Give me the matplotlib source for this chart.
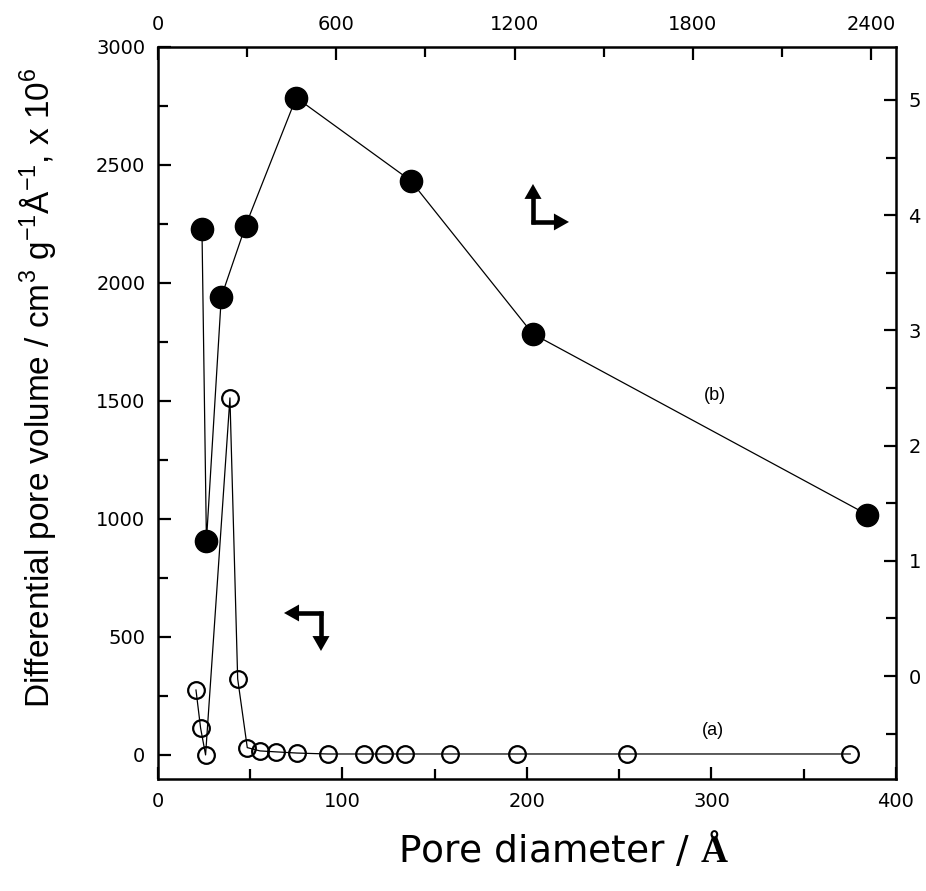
import matplotlib
matplotlib.use('Agg')
import matplotlib.pyplot as plt
from matplotlib.patches import Polygon
from matplotlib.ticker import MultipleLocator

plt.rcParams['font.family'] = ['DejaVu Sans']
plt.rcParams['mathtext.fontset'] = 'custom'
plt.rcParams['mathtext.rm'] = 'Liberation Sans'
plt.rcParams['mathtext.it'] = 'Liberation Sans'
plt.rcParams['mathtext.bf'] = 'Liberation Serif:bold'

# (a) open circles: bottom / left axes
diam_a = [20.6, 23.1, 25.8, 39.0, 43.2, 48.4, 55.3, 63.9, 75.3, 91.9,
          111.6, 122.4, 133.8, 158.4, 194.7, 254.4, 375.2]
vol_a = [275, 114, 0, 1513, 322, 31, 17, 13, 8, 4, 4, 4, 4, 4, 4, 4, 4]

# (b) filled circles: top / right axes
diam_b = [148, 163, 213, 295, 465, 850, 1261, 2387]
vol_b = [3.88, 1.17, 3.29, 3.91, 5.02, 4.30, 2.97, 1.40]

fig = plt.figure(figsize=(9.26, 8.91), dpi=100)
rect = [0.1706, 0.1257, 0.7970, 0.8216]
ax = fig.add_axes(rect)
ax2 = fig.add_axes(rect, frameon=False)

ax.plot(diam_a, vol_a, '-o', color='k', lw=0.9, ms=12, mfc='none',
        mec='k', mew=1.6, zorder=3)
ax.set_xlim(0, 400)
ax.set_ylim(-102, 3000)
ax.xaxis.set_major_locator(MultipleLocator(100))
ax.xaxis.set_minor_locator(MultipleLocator(50))
ax.yaxis.set_major_locator(MultipleLocator(500))
ax.yaxis.set_minor_locator(MultipleLocator(250))

ax2.plot(diam_b, vol_b, '-o', color='k', lw=0.9, ms=16, mfc='k', mec='k',
         zorder=3)
ax2.set_xlim(0, 2483)
ax2.set_ylim(-0.894, 5.46)
ax2.xaxis.set_major_locator(MultipleLocator(600))
ax2.xaxis.set_minor_locator(MultipleLocator(300))
ax2.yaxis.set_major_locator(MultipleLocator(1))
ax2.yaxis.set_minor_locator(MultipleLocator(0.5))
ax2.xaxis.tick_top()
ax2.yaxis.tick_right()

for a in (ax, ax2):
    a.tick_params(which='major', direction='in', length=9, width=1.6,
                  labelsize=14, pad=9)
    a.tick_params(which='minor', direction='in', length=7, width=1.6)
for s in ax.spines.values():
    s.set_linewidth(1.8)

ax.text(301.6, 1521, '(b)', fontsize=13, ha='center', va='center',
        family='Liberation Sans')
ax.text(300.6, 102, '(a)', fontsize=13, ha='center', va='center',
        family='Liberation Sans')

# axis indicator arrows (axes fraction); corner, then the two tips
def frac(px, py):
    return ((px - 158) / 738, (779 - py) / 732)

hl, hw = 15 / 735, 8.5 / 735
arrows = [(frac(321, 613), [frac(284, 613), frac(321, 651)]),
          (frac(533, 222), [frac(533, 184), frac(569, 222)])]
for c, tips in arrows:
    for t in tips:
        dx, dy = t[0] - c[0], t[1] - c[1]
        n = (dx ** 2 + dy ** 2) ** 0.5
        ux, uy = dx / n, dy / n
        bx, by = t[0] - ux * hl, t[1] - uy * hl
        ax.plot([c[0] - ux * 0.0025, bx + ux * 0.002],
                [c[1] - uy * 0.0025, by + uy * 0.002],
                color='k', lw=3.3, solid_capstyle='butt',
                transform=ax.transAxes)
        ax.add_patch(Polygon([t, (bx - uy * hw, by + ux * hw),
                              (bx + uy * hw, by - ux * hw)],
                             closed=True, fc='k', ec='none',
                             transform=ax.transAxes))

fig.text(0.609, 0.046, r'Pore diameter / $\mathbf{\AA}$', fontsize=27,
         ha='center', va='center', family='DejaVu Sans')
fig.text(0.040, 0.565,
         r'Differential pore volume / cm$^3$ g$^{-1}\mathrm{\AA}^{-1}$, x 10$^6$',
         fontsize=24, rotation=90, ha='center', va='center',
         family='Liberation Sans')

fig.savefig('out.png', dpi=100)
